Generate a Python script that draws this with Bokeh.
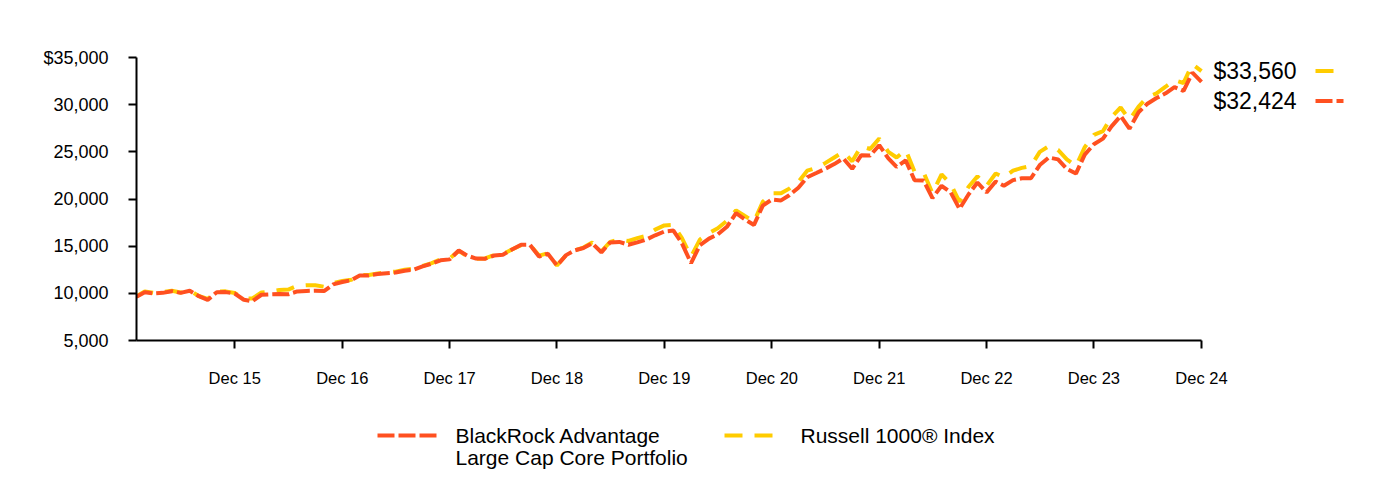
import pandas as pd
from bokeh.plotting import figure
from bokeh.layouts import column
from bokeh.models import (ColumnDataSource, FixedTicker, DatetimeTickFormatter, Range1d)
from bokeh.core.properties import value
from bokeh.embed import file_html
from bokeh.resources import INLINE

# ---------------- data ----------------
months = pd.date_range(start="2015-01-31", periods=120, freq=pd.offsets.MonthEnd())

portfolio = [
    9630, 10120, 9980, 10050, 10230, 10050, 10280, 9700, 9300, 10120, 10130, 9980,      # 2015
    9320, 9170, 9850, 9900, 9930, 9900, 10200, 10250, 10280, 10250, 10950, 11200,      # 2016
    11400, 11880, 11900, 12050, 12130, 12200, 12400, 12500, 12850, 13150, 13500, 13600,  # 2017
    14540, 14010, 13680, 13660, 14010, 14100, 14650, 15150, 15150, 13900, 14200, 12950,  # 2018
    14050, 14540, 14800, 15300, 14350, 15400, 15450, 15150, 15400, 15700, 16150, 16550,  # 2019
    16650, 15300, 13200, 15100, 15800, 16250, 17050, 18500, 17850, 17250, 19300, 19950,  # 2020
    19850, 20400, 21200, 22300, 22750, 23200, 23700, 24300, 23200, 24650, 24600, 25700,  # 2021
    24300, 23400, 24100, 22000, 21950, 20100, 21400, 20700, 18950, 20500, 21750, 20700,  # 2022
    21850, 21400, 22000, 22200, 22200, 23600, 24400, 24200, 23200, 22700, 24700, 25800,  # 2023
    26400, 27700, 28800, 27450, 29200, 30100, 30700, 31200, 31850, 31450, 33400, 32424,  # 2024
]

russell = [
    9680, 10200, 10050, 10130, 10270, 10080, 10300, 9720, 9420, 10180, 10210, 10030,   # 2015
    9480, 9450, 10100, 10180, 10350, 10400, 10800, 10850, 10850, 10700, 11100, 11300,  # 2016
    11450, 11920, 11950, 12100, 12250, 12300, 12500, 12600, 12900, 13200, 13600, 13700,  # 2017
    14500, 13950, 13650, 13700, 14050, 14150, 14650, 15100, 15150, 14000, 14250, 12950,  # 2018
    14050, 14550, 14850, 15400, 14450, 15450, 15700, 15550, 15850, 16100, 16750, 17200,  # 2019
    17250, 15850, 13900, 15700, 16400, 16900, 17700, 18800, 18200, 17600, 19700, 20600,  # 2020
    20600, 21100, 21800, 23000, 23300, 23800, 24400, 25000, 24000, 25600, 25300, 26400,  # 2021
    25000, 24400, 25200, 22900, 22800, 20600, 22600, 21600, 19700, 21300, 22400, 21400,  # 2022
    22700, 22300, 23000, 23300, 23500, 25000, 25600, 25200, 24200, 23500, 25500, 26800,  # 2023
    27200, 28700, 29700, 28400, 29800, 30800, 31200, 31900, 32600, 32300, 34300, 33560,  # 2024
]

year_ticks = ["2015-12-31", "2016-12-31", "2017-12-31", "2018-12-31", "2019-12-31",
              "2020-12-31", "2021-12-31", "2022-12-31", "2023-12-31", "2024-12-31"]
y_ticks = [5000, 10000, 15000, 20000, 25000, 30000, 35000]
y_tick_labels = ["5,000", "10,000", "15,000", "20,000", "25,000", "30,000", "$35,000"]
end_labels = ["$33,560", "$32,424"]
portfolio_name = ["BlackRock Advantage", "Large Cap Core Portfolio"]
russell_name = "Russell 1000\u00ae Index"

# ---------------- style ----------------
FONT = "Liberation Sans"
RED = "#FF5020"
YEL = "#FFCC00"
RED_DASH = "17 4"
YEL_DASH = "18 12"

W = 1376
H1, H2 = 400, 77
LEFT, TOP, BOTTOM = 136, 57, 60
frame_w = W - LEFT
frame_h = H1 - TOP - BOTTOM
data_px = 1065  # width used by the data span

start, end = months[0], months[-1]
x_end = start + (end - start) * (frame_w / data_px)
days_per_px = (end - start) / data_px
val_per_px = (35000 - 5000) / frame_h

p = figure(width=W, height=H1, x_axis_type="datetime",
           x_range=Range1d(start, x_end), y_range=Range1d(5000, 35000),
           output_backend="svg", toolbar_location=None,
           min_border_left=LEFT, min_border_right=0,
           min_border_top=TOP, min_border_bottom=BOTTOM)
p.outline_line_color = None
p.xgrid.visible = False
p.ygrid.visible = False

src = ColumnDataSource(dict(x=months, port=portfolio, rus=russell))
p.line("x", "rus", source=src, line_color=YEL, line_width=4, line_dash=YEL_DASH)
p.line("x", "port", source=src, line_color=RED, line_width=4, line_dash=RED_DASH)

# axes
to_ms = lambda t: pd.Timestamp(t).value / 1e6
xa = p.xaxis[0]
xa.ticker = FixedTicker(ticks=[to_ms(t) for t in year_ticks])
xa.formatter = DatetimeTickFormatter(years="%b %y", months="%b %y", days="%b %y",
                                     hours="%b %y", minutes="%b %y")
xa.bounds = (to_ms(start), to_ms(end))
ya = p.yaxis[0]
ya.ticker = FixedTicker(ticks=y_ticks)
ya.major_label_overrides = {t: l for t, l in zip(y_ticks, y_tick_labels)}
for ax in (xa, ya):
    ax.axis_line_width = 2
    ax.axis_line_color = "black"
    ax.major_tick_line_width = 2
    ax.major_tick_line_color = "black"
    ax.major_tick_in = 0
    ax.major_tick_out = 8
    ax.minor_tick_line_color = None
    ax.major_label_text_font = FONT
    ax.major_label_text_color = "black"
xa.major_label_text_font_size = "16.5px"
xa.major_label_standoff = 20
ya.major_label_text_font_size = "18px"
ya.major_label_standoff = 20

# end labels
lab_src = ColumnDataSource(dict(x=[end, end], y=[russell[-1], russell[-1]],
                                t=end_labels, dy=[0, 30]))
p.text("x", "y", text="t", source=lab_src, x_offset=12, y_offset="dy",
       text_baseline="middle", text_align="left", text_font=value(FONT),
       text_font_size="23px", text_color="black")
m0 = end + days_per_px * 114
m1 = end + days_per_px * 142
y_top = russell[-1]
y_bot = russell[-1] - 30 * val_per_px
p.segment(x0=[m0], y0=[y_top], x1=[m1], y1=[y_top], line_color=YEL,
          line_width=4, line_dash=YEL_DASH)
p.segment(x0=[m0], y0=[y_bot], x1=[m1], y1=[y_bot], line_color=RED,
          line_width=4, line_dash=RED_DASH)

# legend strip (pixel-like coordinates: x = page x, y = page y)
q = figure(width=W, height=H2, x_range=Range1d(LEFT, W), y_range=Range1d(400 + H2, 400),
           output_backend="svg", toolbar_location=None,
           x_axis_location=None, y_axis_location=None,
           min_border_left=LEFT, min_border_right=0, min_border_top=0, min_border_bottom=0)
q.outline_line_color = None
q.xgrid.visible = False
q.ygrid.visible = False
q.segment(x0=[377], y0=[435], x1=[437], y1=[435], line_color=RED, line_width=4,
          line_dash=RED_DASH)
q.segment(x0=[724], y0=[435], x1=[784], y1=[435], line_color=YEL, line_width=4,
          line_dash=YEL_DASH)
q.text(x=[455, 455, 800], y=[435, 457, 435],
       text=[portfolio_name[0], portfolio_name[1], russell_name],
       text_baseline="middle", text_align="left", text_font=value(FONT),
       text_font_size="21px", text_color="black")

layout = column(p, q, spacing=0)
open("out.html", "w").write(file_html(layout, INLINE))
